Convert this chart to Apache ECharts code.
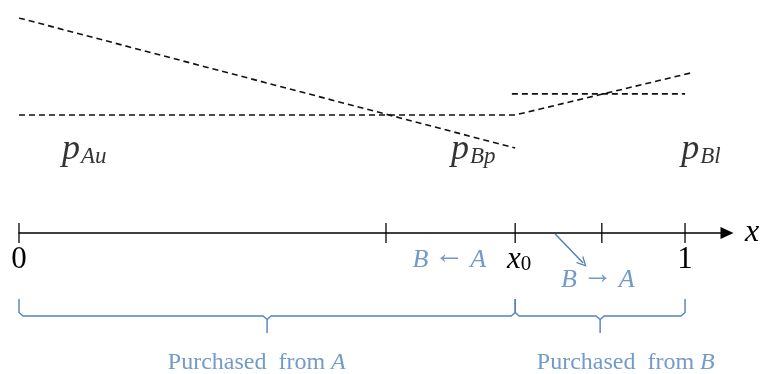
<!DOCTYPE html>
<html>
<head>
<meta charset="utf-8">
<script src="https://cdn.jsdelivr.net/npm/echarts@6/dist/echarts.min.js"></script>
<style>
  html, body { margin: 0; padding: 0; background: #fff; }
  #chart { width: 762px; height: 374px; }
</style>
</head>
<body>
<div id="chart"></div>
<script>
// Consumer location on the unit interval; x0 splits buyers of A and B
const x0 = 0.745;
const tickValues = [0, 0.551, 0.745, 0.875, 1];
const axisLabelValues = [0, 0.745, 1];

// Dashed price schedules (price units, 0 = the x axis)
const priceDown = [[0, 100], [0.745, 39.5]];
const priceKinked = [[0, 54.9], [0.745, 54.9], [1.008, 74.4]];
const priceFlatB = [[0.740, 64.7], [1, 64.7]];

// Price names: main symbol, subscript, anchor
const priceNames = [
  { sym: 'p', sub: 'Au', x: 0.098, y: 38.6 },
  { sym: 'p', sub: 'Bp', x: 0.682, y: 38.6 },
  { sym: 'p', sub: 'Bl', x: 1.024, y: 38.6 }
];

// Switching annotations under the axis
const switchNotes = [
  { from: 'B', arrow: '\u2190', to: 'A', x: 0.646, y: -12.6 },
  { from: 'B', arrow: '\u2192', to: 'A', x: 0.869, y: -21.9 }
];
const switchArrow = [[0.805, -0.5], [0.847, -14.0]];

// Purchase segments, bracketed under the axis
const segments = [
  { a: 0, b: x0, seller: 'A', tx: 0.357 },
  { a: x0, b: 1, seller: 'B', tx: 0.911 }
];
const braceTop = -30.7, braceBar = -38.6, braceTip = -46.5, captionY = -60.5;

const BLUE = '#4f81bd';
const SERIF = '"Liberation Serif", "Times New Roman", serif';

function bracePoints(a, b) {
  const m = (a + b) / 2, dx = 0.006, dy = 1.6;
  return [
    [a, braceTop], [a, braceBar + dy], [a + dx, braceBar],
    [m - dx, braceBar], [m, braceBar - dy], [m, braceTip],
    [m, braceBar - dy], [m + dx, braceBar],
    [b - dx, braceBar], [b, braceBar + dy], [b, braceTop]
  ];
}

const dashed = { color: '#111', width: 1.6, type: [6, 4] };

const series = [
  { type: 'line', data: priceDown, symbol: 'none', lineStyle: dashed, silent: true },
  { type: 'line', data: priceKinked, symbol: 'none', lineStyle: dashed, silent: true },
  { type: 'line', data: priceFlatB, symbol: 'none', lineStyle: dashed, silent: true },
  // tick marks crossing the number line
  {
    type: 'scatter', data: tickValues.map(v => [v, 0]), symbol: 'rect',
    symbolSize: [1.6, 20], itemStyle: { color: '#000' }, silent: true, clip: false, z: 5
  },
  // price names
  {
    type: 'scatter', clip: false, silent: true, symbolSize: 1,
    itemStyle: { color: 'transparent' },
    data: priceNames.map(d => ({ value: [d.x, d.y], sym: d.sym, sub: d.sub })),
    label: {
      show: true, position: 'inside', color: '#000',
      formatter: p => '{m|' + p.data.sym + '}{s|' + p.data.sub + '}',
      rich: {
        m: { fontFamily: SERIF, fontStyle: 'italic', fontSize: 36, lineHeight: 36, color: '#000' },
        s: { fontFamily: SERIF, fontStyle: 'italic', fontSize: 23, lineHeight: 8, verticalAlign: 'bottom', color: '#000', padding: [0, 0, 0, 1] }
      }
    }
  },
  // B <- A / B -> A notes
  {
    type: 'scatter', clip: false, silent: true, symbolSize: 1,
    itemStyle: { color: 'transparent' },
    data: switchNotes.map(d => ({ value: [d.x, d.y], n: d })),
    label: {
      show: true, position: 'inside', color: BLUE,
      formatter: p => '{i|' + p.data.n.from + '}{a|' + p.data.n.arrow + '}{i|' + p.data.n.to + '}',
      rich: {
        i: { fontFamily: SERIF, fontStyle: 'italic', fontSize: 26, lineHeight: 30, color: BLUE },
        a: { fontFamily: SERIF, fontSize: 30, lineHeight: 30, color: BLUE, padding: [0, 6, 9, 6] }
      }
    }
  },
  // small arrow pointing to the B -> A region
  {
    type: 'lines', coordinateSystem: 'cartesian2d', silent: true, clip: false,
    symbol: ['none', 'path://M0,12 L6,0 L12,12 L10.4,12 L6,3.4 L1.6,12 Z'],
    symbolSize: [11, 10],
    lineStyle: { color: BLUE, width: 1.5, type: 'solid', curveness: 0, opacity: 1 },
    data: [{ coords: switchArrow }]
  },
  // captions under the braces
  {
    type: 'scatter', clip: false, silent: true, symbolSize: 1,
    itemStyle: { color: 'transparent' },
    data: segments.map(s => ({ value: [s.tx, captionY], seller: s.seller })),
    label: {
      show: true, position: 'inside', color: BLUE,
      formatter: p => '{r|Purchased  from }{i|' + p.data.seller + '}',
      rich: {
        r: { fontFamily: SERIF, fontSize: 24, color: BLUE },
        i: { fontFamily: SERIF, fontStyle: 'italic', fontSize: 24, color: BLUE }
      }
    }
  }
];

segments.forEach(s => {
  series.push({
    type: 'line', data: bracePoints(s.a, s.b), symbol: 'none', silent: true, clip: false,
    lineStyle: { color: BLUE, width: 1.4 }
  });
});

const chart = echarts.init(document.getElementById('chart'), null, { renderer: 'canvas' });
chart.setOption({
  animation: false,
  backgroundColor: '#fff',
  grid: { left: 19, right: 35, top: 18, bottom: 141, containLabel: false, outerBoundsMode: 'none' },
  xAxis: {
    type: 'value', min: 0, max: 1.063,
    name: 'x', nameLocation: 'end', nameGap: 18,
    nameTextStyle: { fontFamily: SERIF, fontStyle: 'italic', fontSize: 32, color: '#000', verticalAlign: 'middle', padding: [0, 0, 6, 0] },
    axisLine: {
      onZero: false, symbol: ['none', 'triangle'], symbolSize: [12, 13],
      lineStyle: { color: '#000', width: 1.6 }
    },
    axisTick: { show: false },
    splitLine: { show: false },
    axisLabel: {
      customValues: axisLabelValues, margin: 12, color: '#000',
      formatter: v => (Math.abs(v - x0) < 1e-6 ? '{x|x}{s|0}' : '{n|' + v + '}'),
      rich: {
        n: { fontFamily: SERIF, fontSize: 31, lineHeight: 30, color: '#000' },
        x: { fontFamily: SERIF, fontStyle: 'italic', fontSize: 31, lineHeight: 30, color: '#000', padding: [0, 0, 0, 8] },
        s: { fontFamily: SERIF, fontSize: 21, lineHeight: 10, verticalAlign: 'bottom', color: '#000' }
      }
    }
  },
  yAxis: {
    type: 'value', min: 0, max: 100, show: false,
    splitLine: { show: false }
  },
  series: series
});
</script>
</body>
</html>
